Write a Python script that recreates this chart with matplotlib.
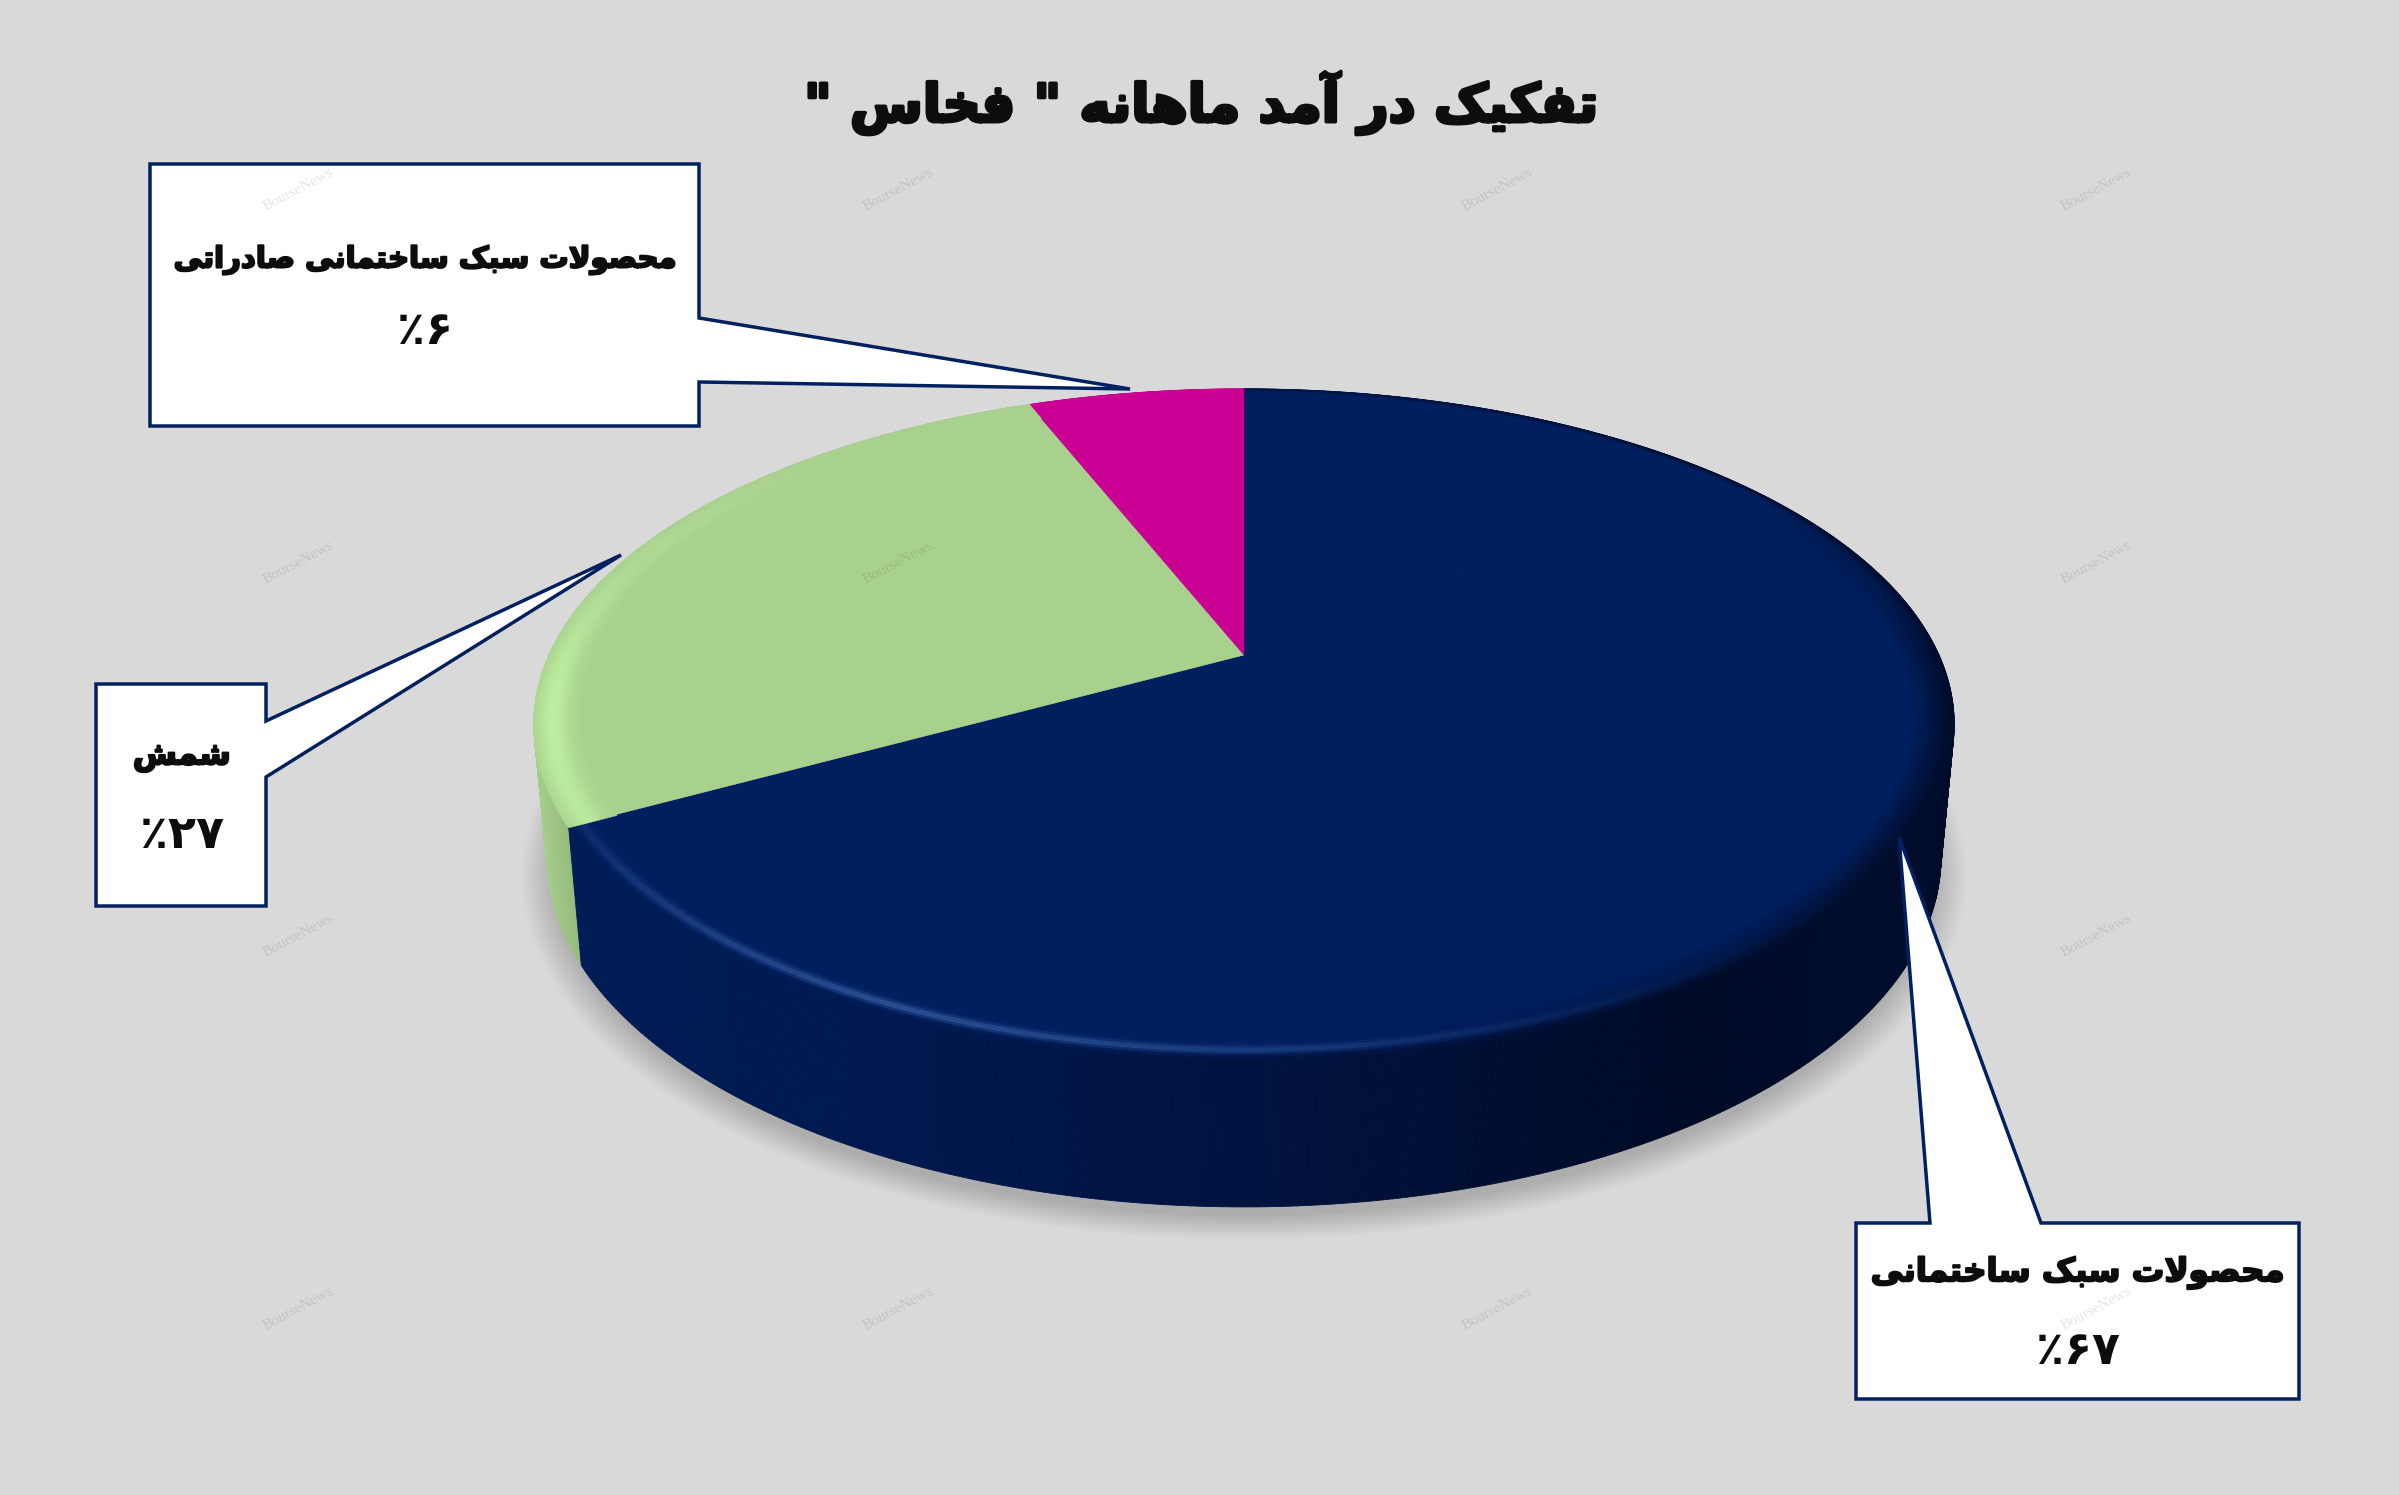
import numpy as np
import matplotlib
matplotlib.use("Agg")
import matplotlib.pyplot as plt
from matplotlib.collections import PolyCollection
from matplotlib.patches import Polygon
import matplotlib.patheffects as pe

# ---- data ----
categories = ["محصولات سبک ساختمانی", "شمش", "محصولات سبک ساختمانی صادراتی"]
values = [67, 27, 6]
title_text = 'تفکیک در آمد ماهانه " فخاس "'
watermark = "BourseNews"

# ---- Persian shaping (matplotlib draws neither joins nor right-to-left) ----
FORMS = {
    'ت': (0xFE95, 0xFE96, 0xFE97, 0xFE98), 'ف': (0xFED1, 0xFED2, 0xFED3, 0xFED4),
    'ک': (0xFB8E, 0xFB8F, 0xFB90, 0xFB91), 'ی': (0xFBFC, 0xFBFD, 0xFBFE, 0xFBFF),
    'م': (0xFEE1, 0xFEE2, 0xFEE3, 0xFEE4), 'ه': (0xFEE9, 0xFEEA, 0xFEEB, 0xFEEC),
    'ن': (0xFEE5, 0xFEE6, 0xFEE7, 0xFEE8), 'خ': (0xFEA5, 0xFEA6, 0xFEA7, 0xFEA8),
    'س': (0xFEB1, 0xFEB2, 0xFEB3, 0xFEB4), 'ح': (0xFEA1, 0xFEA2, 0xFEA3, 0xFEA4),
    'ص': (0xFEB9, 0xFEBA, 0xFEBB, 0xFEBC), 'ل': (0xFEDD, 0xFEDE, 0xFEDF, 0xFEE0),
    'ب': (0xFE8F, 0xFE90, 0xFE91, 0xFE92), 'ش': (0xFEB5, 0xFEB6, 0xFEB7, 0xFEB8),
    'د': (0xFEA9, 0xFEAA, None, None), 'ر': (0xFEAD, 0xFEAE, None, None),
    'آ': (0xFE81, 0xFE82, None, None), 'ا': (0xFE8D, 0xFE8E, None, None),
    'و': (0xFEED, 0xFEEE, None, None),
}
DIGITS = "۰۱۲۳۴۵۶۷۸۹"


def shape(text):
    out = []
    i = 0
    prev_joins = False
    while i < len(text):
        c = text[i]
        nxt = text[i + 1] if i + 1 < len(text) else ""
        if c == 'ل' and nxt == 'ا':
            out.append(chr(0xFEFC if prev_joins else 0xFEFB))
            prev_joins = False
            i += 2
            continue
        if c in FORMS:
            f = FORMS[c]
            joins_next = f[2] is not None and nxt in FORMS
            idx = (1 if prev_joins else 0) + (2 if joins_next else 0)
            out.append(chr(f[idx] if idx < 2 else (f[2] if idx == 2 else f[3])))
            prev_joins = joins_next
        else:
            out.append(c)
            prev_joins = False
        i += 1
    runs, cur = [], ""
    for ch in out:
        if ch in DIGITS:
            cur += ch
        else:
            if cur:
                runs.append(cur)
                cur = ""
            runs.append(ch)
    if cur:
        runs.append(cur)
    return "".join(reversed(runs))


def fa_num(v):
    return "".join(DIGITS[int(d)] for d in str(v))


# ---- canvas ----
W, H = 2399, 1495
BG = "#D9D9D9"
fig = plt.figure(figsize=(W / 100, H / 100), dpi=100, facecolor=BG)
ax = fig.add_axes([0, 0, 1, 1])
ax.set_xlim(0, W)
ax.set_ylim(H, 0)
ax.axis("off")

# ---- perspective disc ----
K = 0.206
TOP = dict(cx=1244, cy=655, a=695, b=321)
BOT = dict(cx=1244, cy=785, a=682, b=335)


def project(t, r=1.0, p=TOP):
    """t: clockwise angle from 12 o'clock, radians"""
    X, Y = r * np.sin(t), r * np.cos(t)
    d = 1 + K * Y
    return p["cx"] + p["a"] * X / d, p["cy"] - p["b"] * Y / d


def mix(c1, c2, f):
    c1, c2 = np.asarray(c1, float), np.asarray(c2, float)
    return c1 + (c2 - c1) * np.clip(f, 0, 1)


def rgb(h):
    return np.array(matplotlib.colors.to_rgb(h))


TOPS = [rgb("#001F5F"), rgb("#A9D18E"), rgb("#C90093")]
fr = np.array(values, float) / sum(values)
ends = np.cumsum(fr) * 2 * np.pi
starts = ends - fr * 2 * np.pi

# shadow
th = np.linspace(0, 2 * np.pi, 361)
for s in np.linspace(1.035, 0.99, 22):
    x, y = project(th, s, BOT)
    ax.add_patch(Polygon(np.c_[x, y + 14], closed=True, fc="black", ec="none",
                         alpha=0.0075, zorder=1))


def side_color(t, idx):
    x = project(t)[0]
    u = (x - 560) / 1390
    if idx == 0:
        stops = [0, .3, .6, .8, 1]
        cols = [rgb("#001C56"), rgb("#00174B"), rgb("#001038"), rgb("#000B28"), rgb("#000C2A")]
        return np.array([np.interp(u, stops, [c[i] for c in cols]) for i in range(3)])
    if idx == 1:
        return mix(rgb("#A6CF8B"), rgb("#90B57A"), (x - 535) / 45)
    return TOPS[idx]


# side wall, back to front
N = 720
edges = np.linspace(0, 2 * np.pi, N + 1)
order = np.argsort(-np.cos((edges[:-1] + edges[1:]) / 2))
polys, cols = [], []
for j in order:
    t0, t1 = edges[j], edges[j + 1]
    tm = (t0 + t1) / 2
    idx = int(np.searchsorted(ends, tm))
    polys.append([project(t0), project(t1), project(t1, 1, BOT), project(t0, 1, BOT)])
    cols.append(side_color(tm, idx))
ax.add_collection(PolyCollection(polys, facecolors=cols, edgecolors=cols, linewidths=0.6, zorder=2))

# top faces
for s, e, col in zip(starts, ends, TOPS):
    t = np.linspace(s, e, 300)
    x, y = project(t)
    ax.add_patch(Polygon(np.r_[[[TOP["cx"], TOP["cy"]]], np.c_[x, y]], closed=True,
                         fc=col, ec=col, lw=0.4, zorder=3))


# bevelled rim
RIM = 0.935


def rim_color(t, r, idx):
    deg = np.degrees(t)
    base = TOPS[idx]
    u = (r - RIM) / (1 - RIM)
    if idx == 0:
        glow = np.interp(deg, [140, 175, 205, 225, 241.2], [0, .55, 1, .6, .25])
        dark = np.interp(deg, [55, 90, 120, 150, 180], [0, .8, 1, .5, 0])
        hi = np.exp(-((u - .72) / .12) ** 2)
        c = mix(base, rgb("#2F5298"), glow * hi)
        c = mix(c, side_color(t, 0), max(0, (u - .8) / .2))
        if dark > 0:
            c = mix(c, side_color(t, 0), dark * min(1, max(0, (u - .1) / .75)))
        return c
    if idx == 1:
        glow = np.interp(deg, [241, 262, 285, 320], [.8, 1, .35, 0])
        hi = np.exp(-((u - .6) / .33) ** 2)
        return mix(base, rgb("#BEF0A2"), glow * hi)
    return base


rings = np.linspace(RIM, 1.0, 15)
polys, cols = [], []
for j in range(N):
    t0, t1 = edges[j], edges[j + 1]
    tm = (t0 + t1) / 2
    idx = int(np.searchsorted(ends, tm))
    for r0, r1 in zip(rings[:-1], rings[1:]):
        polys.append([project(t0, r0), project(t1, r0), project(t1, r1), project(t0, r1)])
        cols.append(rim_color(tm, (r0 + r1) / 2, idx))
ax.add_collection(PolyCollection(polys, facecolors=cols, edgecolors=cols, linewidths=0.3, zorder=4))

# ---- callouts ----
NAVY = "#002060"
callouts = [
    ((150, 164, 699, 426), "R", (318, 382), (1130, 389)),
    ((96, 684, 266, 906), "R", (721, 777), (621, 555)),
    ((1856, 1223, 2299, 1399), "T", (1930, 2041), (1899, 837)),
]
for (x0, y0, x1, y1), where, root, tip in callouts:
    if where == "R":
        pts = [(x0, y0), (x1, y0), (x1, root[0]), tip, (x1, root[1]), (x1, y1), (x0, y1)]
    else:
        pts = [(x0, y0), (root[0], y0), tip, (root[1], y0), (x1, y0), (x1, y1), (x0, y1)]
    ax.add_patch(Polygon(pts, closed=True, fc="white", ec=NAVY, lw=2.5, joinstyle="miter", zorder=6))

# ---- text ----
FONT = "DejaVu Sans"
INK = "#0D0D0D"
ax.text(1201, 103, shape(title_text), ha="center", va="center", family=FONT, weight="bold",
        fontsize=38, color=INK, zorder=8,
        path_effects=[pe.withStroke(linewidth=2.5, foreground=INK)])

label_pos = [(2078, 1273, 1352, 23.4), (182, 756, 835, 23), (425, 260, 332, 21)]
for cat, v, (lx, ly1, ly2, fs) in zip(categories, values, label_pos):
    ax.text(lx, ly1, shape(cat), ha="center", va="center", family=FONT, weight="bold",
            fontsize=fs, color=INK, zorder=8,
            path_effects=[pe.withStroke(linewidth=1.5, foreground=INK)])
    ax.text(lx, ly2, shape(fa_num(v) + "٪"), ha="center", va="center", family=FONT, weight="bold",
            fontsize=33, color=INK, zorder=8)

# ---- watermark ----
for wx in (298, 898, 1497, 2096):
    for wy in (190, 563, 936, 1309):
        ax.text(wx, wy, watermark, ha="center", va="center", rotation=28, family="Liberation Serif",
                fontsize=11, color="black", alpha=0.1, zorder=9)

fig.savefig("out.png", dpi=100, facecolor=BG)
